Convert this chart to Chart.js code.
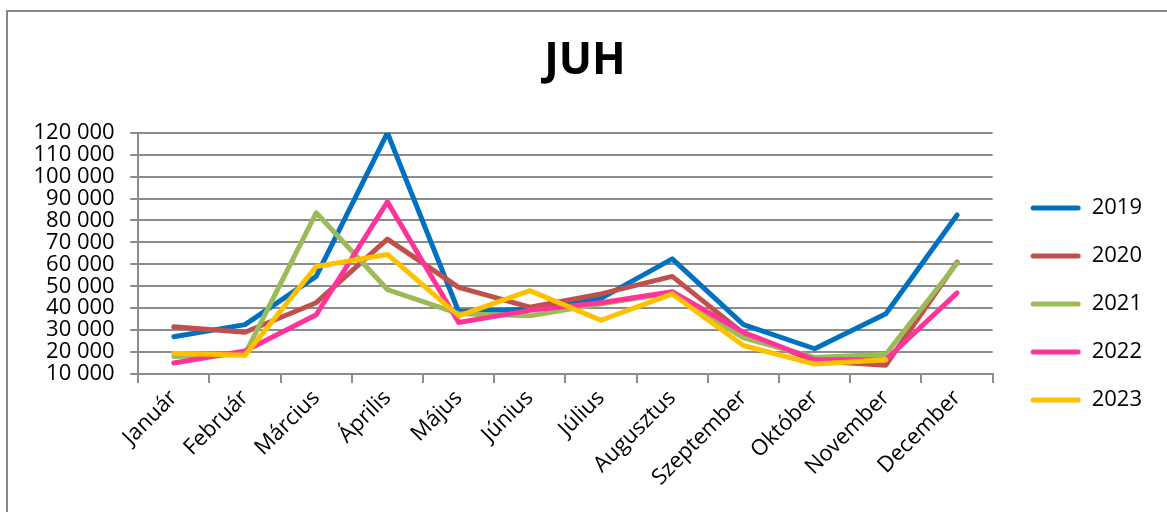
<!DOCTYPE html>
<html>
<head>
<meta charset="utf-8">
<script src="https://cdn.jsdelivr.net/npm/chart.js@4.4.1/dist/chart.umd.min.js"></script>
<style>
    html, body { margin: 0; padding: 0; background: #fff; }
    #wrap { position: relative; width: 1167px; height: 512px; overflow: hidden; }
    #frame {
        position: absolute; left: 6px; top: 10px; width: 1300px; height: 700px;
        border-left: 2px solid #878787; border-top: 2px solid #878787;
    }
    #myChart { position: absolute; left: 0; top: 0; }
</style>
</head>
<body>
<div id="wrap">
    <div id="frame"></div>
    <canvas id="myChart" width="1167" height="512"></canvas>
</div>
<script>
// hónapok (x tengely)
const months = ['Január', 'Február', 'Március', 'Április', 'Május', 'Június',
    'Július', 'Augusztus', 'Szeptember', 'Október', 'November', 'December'];
const years = ['2019', '2020', '2021', '2022', '2023'];
const colors = ['#0070C0', '#C0504D', '#9BBB59', '#FF3399', '#FFC000'];

const data2019 = [27000, 32500, 54500, 120000, 38500, 39500, 44500, 62500, 32500, 21500, 37500, 82500];
const data2020 = [31500, 29000, 42500, 71500, 49500, 40500, 46500, 54500, 28500, 16000, 14000, 61000];
const data2021 = [18000, 19000, 83500, 48500, 37500, 36500, 42000, 47000, 26500, 17500, 19000, 60500];
const data2022 = [15000, 20500, 37000, 88500, 33500, 39000, 42500, 47500, 29000, 16500, 16500, 47000];
const data2023 = [19500, 18500, 59000, 64500, 36500, 48000, 34500, 46500, 23000, 14500, 16500, null];

const yMin = 10000;
const yMax = 120000;
const yStep = 10000;

const allData = [data2019, data2020, data2021, data2022, data2023];
const gridColor = '#8c8c8c';

const ctx = document.getElementById("myChart").getContext("2d");
const myChart = new Chart(ctx, {
    type: "line",
    data: {
        labels: months,
        datasets: years.map((y, i) => ({
            label: y,
            data: allData[i],
            borderColor: colors[i],
            backgroundColor: colors[i],
            borderWidth: 5,
            pointRadius: 0,
            pointHoverRadius: 0,
            borderJoinStyle: 'round',
            borderCapStyle: 'round',
            tension: 0,
            fill: false,
            order: years.length - i,   // 2023 legyen felül
        }))
    },
    options: {
        responsive: false,
        animation: false,
        events: [],
        layout: {
            padding: { top: 10, right: 15, bottom: 19, left: 18 }
        },
        plugins: {
            title: {
                display: true,
                text: 'JUH',
                color: '#000',
                font: { family: 'Open Sans', size: 44, weight: 'bold' },
                padding: { top: 25, bottom: 45 },
            },
            legend: {
                position: 'right',
                // üres cím: lejjebb tolja a tételeket
                title: {
                    display: true,
                    text: ' ',
                    font: { size: 10 },
                    padding: { top: 47, bottom: 46 },
                },
                labels: {
                    boxWidth: 50,
                    boxHeight: 5,
                    padding: 26,
                    color: '#000',
                    font: { family: 'Open Sans', size: 22 },
                    generateLabels: chart => chart.data.datasets.map((set, idx) => ({
                        text: set.label,
                        fillStyle: set.borderColor,
                        strokeStyle: set.borderColor,
                        lineWidth: 0,
                        borderRadius: 2.5,
                        fontColor: '#000',
                        datasetIndex: idx,
                    })),
                },
            },
            tooltip: { enabled: false },
        },
        scales: {
            x: {
                offset: true,
                grid: {
                    offset: true,
                    drawOnChartArea: false,
                    color: gridColor,
                    lineWidth: 2,
                    tickLength: 9,
                },
                border: { color: gridColor, width: 2 },
                ticks: {
                    color: '#000',
                    minRotation: 45,
                    maxRotation: 45,
                    padding: 2,
                    autoSkip: false,
                    font: { family: 'Open Sans', size: 22 },
                },
            },
            y: {
                min: yMin,
                max: yMax,
                grid: {
                    color: gridColor,
                    lineWidth: 2,
                    tickLength: 8,
                },
                border: { color: gridColor, width: 2 },
                ticks: {
                    stepSize: yStep,
                    autoSkip: false,
                    padding: 15.5,
                    color: '#000',
                    font: { family: 'Open Sans', size: 22 },
                    callback: v => String(v).replace(/\B(?=(\d{3})+(?!\d))/g, ' '),
                },
            },
            // üres tengely, csak hely a jelmagyarázat előtt
            gap: {
                position: 'right',
                display: true,
                grid: { display: false },
                border: { display: false },
                ticks: { display: false },
                afterFit: scale => { scale.width = 12; },
            },
        },
    },
});
</script>
</body>
</html>
